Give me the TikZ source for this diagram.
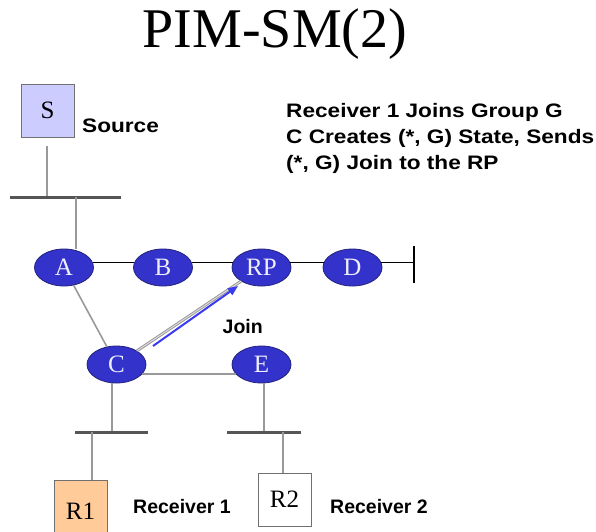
\documentclass[tikz,border=0pt]{standalone}
\usepackage{fontspec}
\setmainfont{Liberation Serif}
\newfontfamily\labfont{Liberation Sans}
\newfontfamily\widefont[FakeStretch=1.16]{Liberation Sans}
\usetikzlibrary{shapes.geometric,arrows.meta}
\definecolor{nodeblue}{HTML}{3333CC}
\definecolor{nodeedge}{HTML}{22227A}
\definecolor{glinec}{HTML}{999999}
\definecolor{glinelight}{HTML}{E0E0E0}
\definecolor{barc}{HTML}{555555}
\definecolor{sfill}{HTML}{CCCCFF}
\definecolor{rfill}{HTML}{FFCC99}
\definecolor{boxedge}{HTML}{707070}
\definecolor{joinblue}{HTML}{3A3AF0}
\definecolor{lightlab}{HTML}{EEEEFF}
\tikzset{
  router/.style={ellipse, fill=nodeblue, draw=nodeedge, line width=0.8pt, minimum width=59pt, minimum height=37pt, inner sep=0pt, text=lightlab, font=\fontsize{25}{28}\selectfont},
  hostbox/.style={rectangle, draw=boxedge, line width=1pt, minimum width=53pt, inner sep=0pt, font=\fontsize{25}{28}\selectfont},
  lab/.style={inner sep=0pt, font=\labfont\bfseries\fontsize{19.5}{23}\selectfont},
  widelab/.style={inner sep=0pt, font=\widefont\bfseries\fontsize{19.5}{23}\selectfont},
  gline/.style={draw=glinec, line width=1.6pt},
  dline/.style={draw=glinec, line width=1pt, double=glinelight, double distance=0.9pt},
  barline/.style={draw=barc, line width=3pt},
  mainline/.style={draw=black, line width=1.6pt},
  joinarrow/.style={draw=joinblue, line width=2pt, -{Triangle[length=10pt,width=8pt]}},
}
\begin{document}
\begin{tikzpicture}[x=1pt,y=-1pt]
\useasboundingbox (0,0) rectangle (596,531);
% title
\node[inner sep=0pt, anchor=base, font=\fontsize{56}{60}\selectfont] (title) at (275,47) {PIM-SM(2)};
% source
\node[hostbox, fill=sfill, minimum height=53pt] (S) at (47.5,110.5) {S};
\node[widelab, anchor=base west] (src) at (82,132) {Source};
% description
\node[widelab, anchor=base west] (t1) at (286,117) {Receiver 1 Joins Group G};
\node[widelab, anchor=base west] (t2) at (286,143) {C Creates (*, G) State, Sends};
\node[widelab, anchor=base west] (t3) at (286,169) {(*, G) Join to the RP};
% routers
\node[router] (A) at (64,267.5) {A};
\node[router] (B) at (163,267.5) {B};
\node[router] (RP) at (261.5,267.5) {RP};
\node[router] (D) at (352.5,267.5) {D};
\node[router] (C) at (116.5,364.5) {C};
\node[router] (E) at (261.5,364.5) {E};
% hosts
\node[hostbox, fill=rfill, minimum height=62pt] (R1) at (80.5,511) {R1};
\node[hostbox, fill=white, minimum height=53pt] (R2) at (284.5,499.5) {R2};
\node[lab, anchor=base west] (rc1) at (133,513) {Receiver 1};
\node[lab, anchor=base west] (rc2) at (330,513) {Receiver 2};
\node[lab, anchor=base west] (join) at (222.5,333) {Join};
% coordinates
\coordinate (b1l) at (10,197);
\coordinate (b1r) at (121,197);
\coordinate (b1s) at (47,197);
\coordinate (b1a) at (76,197);
\coordinate (tickT) at (414,246);
\coordinate (tickB) at (414,283);
\coordinate (b2l) at (75,432);
\coordinate (b2r) at (148,432);
\coordinate (b2c) at (112,432);
\coordinate (b2r1) at (92,432);
\coordinate (b3l) at (227,432);
\coordinate (b3r) at (301,432);
\coordinate (b3e) at (264,432);
\coordinate (b3r2) at (283,432);
\coordinate (js) at (153,346);
\coordinate (je) at (238,286);
% LAN segments
\draw[gline] ([yshift=-8pt]S.south -| b1s) -- (b1s);
\draw[barline] (b1l) -- (b1r);
\draw[gline] (b1a) -- (b1a |- A.north);
\draw[mainline] (A.10) -- (B.170);
\draw[mainline] (B.10) -- (RP.170);
\draw[mainline] (RP.10) -- (D.170);
\draw[mainline] (D.10) -- (D.10 -| tickT);
\draw[mainline] (tickT) -- (tickB);
\draw[gline] (A) -- (C);
\draw[dline] (C) -- (RP);
\draw[gline] (C.-20) -- (E.200);
\draw[joinarrow] (js) -- (je);
\draw[gline] (b2c |- C.south) -- (b2c);
\draw[barline] (b2l) -- (b2r);
\draw[gline] (b2r1) -- (b2r1 |- R1.north);
\draw[gline] (b3e |- E.south) -- (b3e);
\draw[barline] (b3l) -- (b3r);
\draw[gline] (b3r2) -- (b3r2 |- R2.north);
\end{tikzpicture}
\end{document}
